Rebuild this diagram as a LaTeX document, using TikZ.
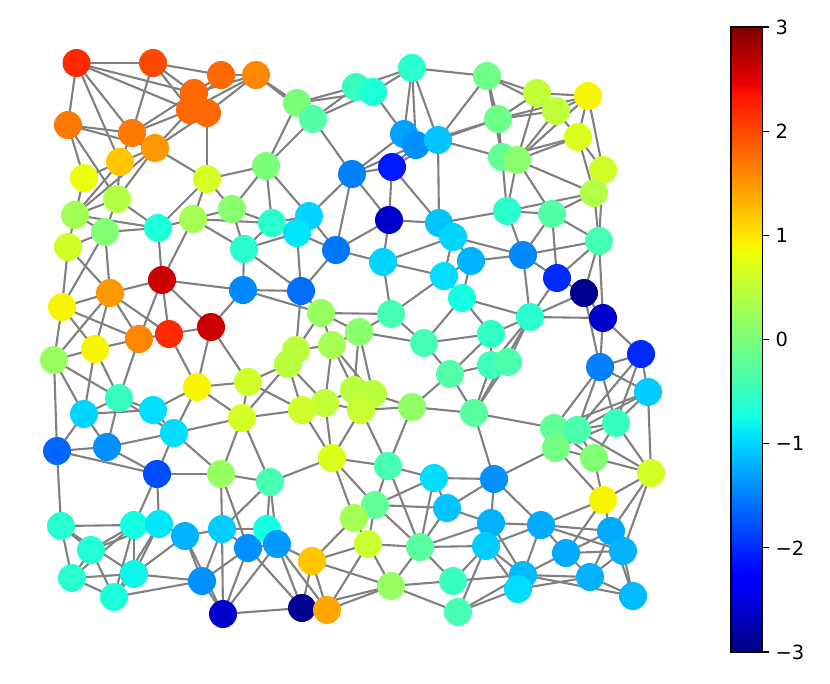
\documentclass[tikz,border=0pt]{standalone}
\usepackage{fontspec}
\setmainfont{DejaVu Sans}
\pgfdeclarelayer{bg}
\pgfsetlayers{bg,main}
\newcommand{\jetcolor}[2]{%
  \pgfmathsetmacro{\mjt}{(#2+3)/6}%
  \pgfmathsetmacro{\mjr}{\mjt<0.35 ? 0 : (\mjt<0.66 ? (\mjt-0.35)/0.31 : (\mjt<0.89 ? 1 : 1-0.5*(\mjt-0.89)/0.11))}%
  \pgfmathsetmacro{\mjg}{\mjt<0.125 ? 0 : (\mjt<0.375 ? (\mjt-0.125)/0.25 : (\mjt<0.64 ? 1 : (\mjt<0.91 ? 1-(\mjt-0.64)/0.27 : 0)))}%
  \pgfmathsetmacro{\mjb}{\mjt<0.11 ? 0.5+0.5*\mjt/0.11 : (\mjt<0.34 ? 1 : (\mjt<0.65 ? 1-(\mjt-0.34)/0.31 : 0))}%
  \definecolor{#1}{rgb}{\mjr,\mjg,\mjb}}
\tikzset{
  nd/.style={circle, minimum size=28pt, inner sep=0pt, draw=none},
  edge/.style={draw=black!50, line width=2.1pt},
  cbtick/.style={line width=1.1pt},
  cblabel/.style={anchor=west, font=\fontsize{19.5}{22}\selectfont}
}
\begin{document}
\begin{tikzpicture}[x=1pt,y=-1pt]
\useasboundingbox (0,0) rectangle (830,683);
\foreach \nm/\x/\y/\v in {
n1/76.5/63/2.2, n2/153/63/2.0, n3/221/75/1.8, n4/256/75/1.6, n5/194/93/1.8,
n6/190/110/1.8, n7/207/113/1.8, n8/68/125/1.7, n9/132/133/1.7, n10/155/148/1.5,
n11/120/162/1.2, n12/84/178/0.8, n13/207/179/0.65, n14/117/199/0.4, n15/75/215/0.3,
n16/105/232/0.05, n17/158/228/-0.7, n18/193/219/0.3, n19/232/209/0.1, n20/68/247/0.6,
n21/266/166/0.0, n22/244/249/-0.6, n23/272/223/-0.6, n24/309/216/-1.0, n25/297/233/-0.9,
n26/297/103/0.0, n27/313/119/-0.3, n28/356/87/-0.5, n29/373/92/-0.7, n30/412/68/-0.6,
n31/404/134/-1.3, n32/416/145/-1.4, n33/438/140/-1.1, n34/352/174/-1.5, n35/392/167/-2.1,
n36/389/220/-2.6, n37/439/223/-1.1, n38/453/237/-1.0, n39/336/250/-1.55, n40/383/262/-1.0,
n41/444/276/-0.95, n42/471/261/-1.2, n43/462/298/-0.75,
n44/487/76/-0.1, n45/537/93/0.5, n46/588/96/0.9, n47/556/111/0.5, n48/498/119/-0.1,
n49/578/137/0.7, n50/502/157/-0.2, n51/517/160/0.1, n52/603/170/0.6, n53/594/193/0.4,
n54/507/211/-0.6, n55/552/214/-0.3, n56/599/241/-0.4, n57/523/255/-1.45, n58/557/278/-2.0,
n59/584/293/-2.9, n60/603/318/-2.6,
n61/162/280/2.6, n62/110/293/1.5, n63/243/290/-1.45, n64/62/307/0.9, n65/211/327/2.6,
n66/169/334/2.2, n67/139/339/1.6, n68/95/349/0.9, n69/54/360/0.2, n70/197/387/0.9,
n71/248/382/0.6, n72/119/398/-0.5, n73/84/414/-1.0, n74/153/410/-0.95, n75/174/433/-0.95,
n76/242/418/0.65,
n77/301/291/-1.6, n78/321/313/0.2, n79/391/314/-0.4, n80/359/332/0.1, n81/424/343/-0.4,
n82/296/350/0.45, n83/332/345/0.3, n84/288/364/0.45, n85/450/374/-0.3, n86/354/390/0.45,
n87/373/394/0.45, n88/325/403/0.5, n89/302/410/0.6, n90/361/410/0.55, n91/412/407/0.15,
n92/474/413/-0.25,
n93/530/317/-0.6, n94/491/334/-0.55, n95/491/365/-0.45, n96/508/362/-0.35, n97/641/354/-2.0,
n98/600/367/-1.5, n99/648/392/-1.05, n100/616/423/-0.5, n101/554/428/-0.2, n102/577/430/-0.35,
n103/556/448/-0.05, n104/594/458/0.05, n105/651/473/0.65,
n106/57/451/-1.65, n107/107/447/-1.4, n108/157/474/-1.8, n109/221/474/0.2, n110/61/526/-0.6,
n111/134/525/-0.75, n112/159/524/-0.9, n113/185/536/-1.2, n114/222/529/-1.05, n115/91/550/-0.65,
n116/248/548/-1.4, n117/72/578/-0.6, n118/134/574/-0.8, n119/114/597/-0.7, n120/202/581/-1.4,
n121/223/614/-2.6, n122/267/529/-0.75, n123/277/544/-1.35,
n124/270/482/-0.4, n125/332/458/0.7, n126/388/466/-0.4, n127/434/478/-0.95, n128/375/505/-0.2,
n129/447/508/-1.1, n130/354/518/0.3, n131/368/544/0.55, n132/420/547/-0.25, n133/312/561/1.2,
n134/391/586/0.2, n135/453/581/-0.5, n136/458/612/-0.4, n137/302/608/-2.9, n138/327/610/1.4,
n139/494/479/-1.4, n140/603/500/0.9, n141/491/523/-1.2, n142/541/525/-1.25, n143/611/531/-1.25,
n144/486/546/-1.05, n145/566/553/-1.25, n146/623/551/-1.2, n147/523/575/-1.15, n148/518/589/-0.95,
n149/590/577/-1.2, n150/633/596/-1.15}
{\jetcolor{nc}{\v}\node[nd, fill=nc] (\nm) at (\x,\y) {};}
\begin{pgfonlayer}{bg}
\foreach \a/\b in {
n1/n2, n1/n8, n1/n5, n1/n6, n1/n9, n1/n11,
n2/n3, n2/n5, n2/n6, n2/n9,
n3/n4, n3/n5, n3/n6, n4/n5, n4/n7, n4/n6, n4/n26, n4/n27,
n5/n6, n5/n7, n6/n7,
n8/n9, n8/n10, n8/n12, n8/n14,
n9/n10, n9/n6, n9/n5, n9/n11,
n10/n6, n10/n7, n10/n13, n10/n14, n10/n11,
n11/n12, n11/n14, n11/n15,
n7/n13, n12/n15,
n13/n18, n13/n19, n13/n21, n13/n17,
n14/n16, n14/n17, n14/n15,
n15/n16, n15/n17, n15/n20, n15/n10,
n16/n17, n16/n20,
n17/n18, n17/n61,
n18/n19, n18/n61, n18/n22, n18/n23,
n19/n23, n19/n22, n19/n21,
n21/n26, n21/n27, n21/n23, n21/n24,
n22/n23, n22/n25, n22/n63, n22/n77,
n23/n24, n23/n25,
n24/n25, n24/n34, n24/n39,
n25/n77, n25/n39,
n26/n27, n26/n28, n26/n29, n27/n28, n27/n29, n27/n34,
n28/n29, n28/n30, n29/n30, n29/n31,
n30/n31, n30/n32, n30/n33, n30/n44,
n31/n32, n32/n33, n31/n33,
n34/n31, n34/n32, n34/n35, n34/n36, n34/n39,
n35/n32, n35/n33, n35/n36, n35/n37,
n36/n37, n36/n40, n36/n39,
n37/n38, n37/n54, n37/n33,
n38/n42, n38/n57, n38/n40, n38/n41,
n39/n40, n39/n77,
n40/n41, n40/n79,
n41/n42, n41/n43, n41/n79,
n42/n43, n42/n57,
n43/n81, n43/n93, n43/n94,
n44/n33, n44/n45, n44/n47, n44/n48, n44/n50,
n45/n46, n45/n47, n45/n48, n45/n51,
n46/n47, n46/n48, n46/n49, n46/n52, n46/n51,
n47/n51, n47/n48, n47/n49,
n48/n50, n48/n33, n48/n32,
n49/n51, n49/n50, n49/n52, n49/n53,
n50/n51, n50/n33, n50/n54,
n51/n53, n51/n54, n51/n55,
n52/n53, n52/n56,
n53/n54, n53/n55, n53/n56,
n54/n55, n54/n57,
n55/n56, n55/n57, n55/n58,
n56/n58, n56/n59, n56/n60, n57/n56,
n57/n58, n57/n93,
n58/n59, n58/n93,
n59/n60, n59/n93, n59/n98,
n60/n93, n60/n97, n60/n98,
n61/n62, n61/n63, n61/n65, n61/n66, n61/n67,
n20/n64, n20/n62, n16/n62, n16/n64,
n62/n64, n62/n67, n62/n66, n62/n68, n62/n69,
n64/n67, n64/n68, n64/n69,
n63/n65, n63/n77, n63/n78,
n65/n66, n65/n70, n65/n71,
n66/n67, n66/n70,
n67/n68, n67/n72,
n68/n69, n68/n72, n68/n73,
n69/n72, n69/n73, n69/n106,
n70/n71, n70/n74, n70/n75, n70/n76,
n71/n76, n71/n84, n71/n89,
n72/n73, n72/n74, n72/n75, n72/n107,
n73/n74, n73/n106, n73/n107,
n74/n75,
n75/n76, n75/n107, n75/n108, n75/n109,
n77/n78, n77/n82,
n78/n79, n78/n80, n78/n83, n78/n82,
n79/n80, n79/n81,
n80/n81, n80/n83, n80/n86, n80/n87,
n81/n85, n81/n94,
n82/n83, n82/n84,
n83/n86, n83/n88, n83/n87,
n84/n89, n84/n88, n84/n76,
n85/n91, n85/n92, n85/n95, n85/n94,
n86/n87, n86/n88, n86/n90,
n87/n90, n87/n91,
n88/n89, n88/n90, n88/n125,
n89/n76, n89/n125,
n90/n91, n90/n125, n90/n126,
n91/n92, n91/n126,
n92/n93, n92/n95, n92/n96, n92/n101, n92/n139,
n93/n94, n93/n95, n93/n96,
n94/n95, n95/n96,
n97/n98, n97/n99, n97/n100, n97/n102,
n98/n99, n98/n100, n98/n101, n98/n102,
n99/n100, n99/n102, n99/n105, n99/n101,
n100/n102, n100/n104, n100/n105, n100/n103,
n101/n102, n101/n103, n101/n104,
n102/n103, n102/n104, n102/n105,
n103/n104, n103/n139, n103/n140,
n104/n105, n104/n140,
n106/n107, n106/n108, n106/n110,
n107/n108,
n108/n109, n108/n111, n108/n112,
n109/n114, n109/n76, n109/n124, n109/n116,
n110/n111, n110/n115, n110/n117, n110/n118,
n111/n115, n111/n117, n111/n118, n111/n119, n111/n112,
n112/n113, n112/n118, n112/n115, n112/n119,
n113/n114, n113/n118, n113/n120, n113/n121,
n114/n120, n114/n121, n114/n116, n114/n124, n114/n122,
n115/n117, n115/n119,
n117/n118, n117/n119,
n118/n119, n118/n120,
n119/n120,
n120/n121, n120/n116,
n116/n121, n116/n123, n116/n137, n116/n122,
n121/n137, n121/n123,
n124/n125, n124/n76, n124/n122, n124/n123,
n122/n123,
n123/n133, n123/n137, n123/n138,
n125/n126, n125/n130, n125/n128,
n126/n127, n126/n128, n126/n132,
n127/n128, n127/n129, n127/n132, n127/n139,
n128/n129, n128/n130, n128/n131, n128/n132,
n129/n132, n129/n139, n129/n141,
n130/n133, n130/n131,
n131/n132, n131/n133, n131/n134, n131/n138,
n132/n134, n132/n135, n132/n141, n132/n144,
n133/n134, n133/n137, n133/n138,
n134/n135, n134/n136, n134/n137, n134/n138,
n137/n138,
n135/n144, n135/n147, n136/n144, n136/n147, n136/n148,
n139/n141, n139/n142,
n140/n142, n140/n143, n140/n145, n140/n105,
n105/n143, n105/n146,
n141/n142, n141/n144, n141/n147,
n142/n143, n142/n145, n142/n146, n142/n147, n142/n144,
n143/n145, n143/n146, n143/n149, n143/n150,
n144/n147, n144/n148,
n145/n146, n145/n147, n145/n149,
n146/n149, n146/n150,
n147/n148, n147/n149, n147/n150,
n148/n149, n149/n150}
{\draw[edge] (\a.center) -- (\b.center);}
\end{pgfonlayer}
% colorbar
\foreach \i in {0,...,249}{
  \pgfmathsetmacro{\vv}{-3+6*(\i+0.5)/250}
  \jetcolor{cbc}{\vv}
  \fill[cbc] (731,{652-\i*2.5+0.2}) rectangle (762,{652-(\i+1)*2.5-0.2});
}
\node[draw=none, inner sep=0pt, minimum width=31pt, minimum height=625pt, anchor=north west] (cbar) at (731,27) {};
\draw[line width=1.1pt] (cbar.north west) rectangle (cbar.south east);
\foreach \v/\lab in {3/3, 2/2, 1/1, 0/0, -1/−1, -2/−2, -3/−3}{
  \pgfmathsetmacro{\ty}{27+(3-\v)*625/6}
  \draw[cbtick] (762,\ty) -- (769,\ty);
  \node[cblabel] at (772,\ty) {\lab};
}
\end{tikzpicture}
\end{document}
